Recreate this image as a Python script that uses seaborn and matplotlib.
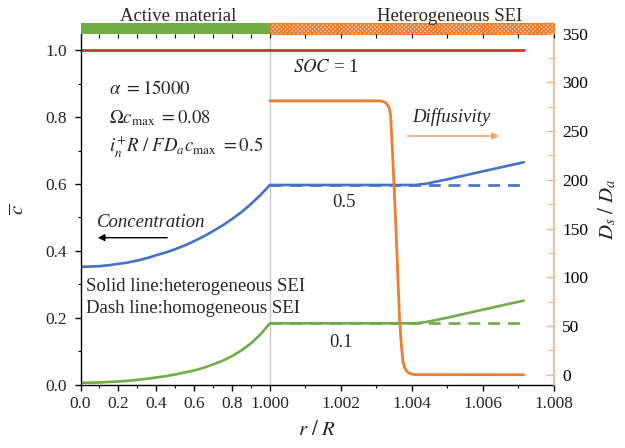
import numpy as np
import matplotlib
matplotlib.use("Agg")
import matplotlib.pyplot as plt
import matplotlib.transforms as mtransforms
from matplotlib.patches import Rectangle, FancyArrowPatch
import seaborn as sns

# ---------------- data ----------------
# normalised radius inside the active particle
r_active = [0.0, 0.05, 0.1, 0.15, 0.2, 0.25, 0.3, 0.35, 0.4, 0.45, 0.5,
            0.55, 0.6, 0.65, 0.7, 0.75, 0.8, 0.85, 0.9, 0.95, 1.0]
c_soc05_active = [0.352, 0.353, 0.354, 0.357, 0.361, 0.365, 0.371, 0.378, 0.387, 0.395, 0.405,
                  0.416, 0.429, 0.443, 0.459, 0.476, 0.495, 0.516, 0.540, 0.567, 0.597]
c_soc01_active = [0.005, 0.0055, 0.006, 0.0075, 0.009, 0.011, 0.014, 0.017, 0.021, 0.025, 0.030,
                  0.036, 0.042, 0.050, 0.060, 0.071, 0.085, 0.102, 0.123, 0.150, 0.183]

# radius inside the SEI layer (heterogeneous SEI, solid lines)
r_sei = [1.0041, 1.0044, 1.0050, 1.0060, 1.00715]
c_soc05_sei = [0.597, 0.601, 0.614, 0.638, 0.665]
c_soc01_sei = [0.183, 0.187, 0.200, 0.224, 0.251]

# homogeneous SEI (dashed lines)
r_homog = [1.000, 1.00715]
c_soc05_homog = [0.597, 0.597]
c_soc01_homog = [0.183, 0.183]

# fully charged state
r_soc1 = [0.0, 1.00715]
c_soc1 = [1.0, 1.0]

# diffusivity ratio across the SEI
r_diff = [1.0000, 1.0031, 1.00325, 1.00335, 1.0034, 1.00345, 1.0035, 1.00355,
          1.0036, 1.00365, 1.0037, 1.00375, 1.0038, 1.00385, 1.0039, 1.0040,
          1.0041, 1.00715]
diffusivity = [281, 281, 279.5, 274.8, 266, 230, 190, 150,
               104, 58, 31, 13, 6.9, 3.8, 2.0, 0.6,
               0.1, 0.0]

x_major = [0.0, 0.2, 0.4, 0.6, 0.8, 1.000, 1.002, 1.004, 1.006, 1.008]
x_major_labels = ["0.0", "0.2", "0.4", "0.6", "0.8", "1.000", "1.002", "1.004", "1.006", "1.008"]
x_minor = [0.1, 0.3, 0.5, 0.7, 0.9, 1.001, 1.003, 1.005, 1.007]
y_left_major = [0.0, 0.2, 0.4, 0.6, 0.8, 1.0]
y_left_labels = ["0.0", "0.2", "0.4", "0.6", "0.8", "1.0"]
y_left_minor = [0.1, 0.3, 0.5, 0.7, 0.9]
y_right_major = [0, 50, 100, 150, 200, 250, 300, 350]
y_right_minor = [25, 75, 125, 175, 225, 275, 325]

# ---------------- style ----------------
sns.set_style("ticks")
plt.rcParams["font.family"] = ["Liberation Serif", "DejaVu Serif"]
plt.rcParams["mathtext.fontset"] = "stix"
plt.rcParams["hatch.linewidth"] = 1.1

RED = "#C63B2B"
BLUE = "#4472C4"
GREEN = "#70AD47"
ORANGE = "#ED7D31"
ORANGE_LIGHT = "#F4B183"
LW = 1.9
DASH = (0, (4.5, 3))
FS = 13.5

# piecewise x scale: the thin SEI shell is stretched
SEI_STRETCH = 187.5


def fwd(x):
    x = np.asarray(x, dtype=float)
    return np.where(x <= 1.0, x, 1.0 + (x - 1.0) * SEI_STRETCH)


def inv(u):
    u = np.asarray(u, dtype=float)
    return np.where(u <= 1.0, u, 1.0 + (u - 1.0) / SEI_STRETCH)


fig = plt.figure(figsize=(6.25, 4.48), dpi=100)
ax = fig.add_axes([80.5 / 625, 1 - 384.5 / 448, (554 - 80.5) / 625, (384.5 - 33.6) / 448])
ax.set_xscale("function", functions=(fwd, inv))
ax2 = ax.twinx()

ax.axvline(1.0, color="#C8C8C8", lw=1.0, zorder=0)

# concentration profiles
sns.lineplot(x=r_soc1, y=c_soc1, ax=ax, color=RED, lw=2.0, estimator=None)
sns.lineplot(x=r_homog, y=c_soc05_homog, ax=ax, color=BLUE, lw=LW, linestyle=DASH, estimator=None)
sns.lineplot(x=r_homog, y=c_soc01_homog, ax=ax, color=GREEN, lw=LW, linestyle=DASH, estimator=None)
sns.lineplot(x=r_active + r_sei, y=c_soc05_active + c_soc05_sei, ax=ax, color=BLUE, lw=LW, estimator=None)
sns.lineplot(x=r_active + r_sei, y=c_soc01_active + c_soc01_sei, ax=ax, color=GREEN, lw=LW, estimator=None)

# diffusivity ratio
sns.lineplot(x=r_diff, y=diffusivity, ax=ax2, color=ORANGE, lw=2.0, estimator=None)

ax.set_xlim(0.0, 1.008)
ax.set_ylim(0.0, 1.05)
ax2.set_ylim(-10, 350)

# left / bottom axes
ax.set_xticks(x_major)
ax.set_xticklabels(x_major_labels)
ax.set_xticks(x_minor, minor=True)
ax.set_yticks(y_left_major)
ax.set_yticklabels(y_left_labels)
ax.set_yticks(y_left_minor, minor=True)
ax.tick_params(axis="both", which="major", direction="out", length=4.5, width=1.0,
               color="black", labelsize=12.5, pad=4)
ax.tick_params(axis="both", which="minor", direction="out", length=2.5, width=0.8, color="black")
ax.tick_params(axis="y", which="major", pad=5)
for s in ("top", "right"):
    ax.spines[s].set_visible(False)
for s in ("left", "bottom"):
    ax.spines[s].set_color("black")
    ax.spines[s].set_linewidth(1.0)
ax.set_xlabel(r"$r\ /\ R$", fontsize=15, labelpad=6)
ax.set_ylabel(r"$\overline{c}$", fontsize=15, labelpad=12)

# right axis
ax2.set_yticks(y_right_major)
ax2.set_yticks(y_right_minor, minor=True)
ax2.tick_params(axis="y", which="major", direction="in", length=6, width=1.0,
                color=ORANGE_LIGHT, labelcolor="black", labelsize=12.5, pad=6)
ax2.tick_params(axis="y", which="minor", direction="in", length=4, width=0.8, color=ORANGE_LIGHT)
for s in ("top", "left", "bottom"):
    ax2.spines[s].set_visible(False)
ax2.spines["right"].set_color(ORANGE_LIGHT)
ax2.spines["right"].set_linewidth(1.2)
ax2.set_ylabel(r"$D_s\ /\ D_a$", fontsize=15, labelpad=6)

# inward ticks along the top edge
ax_top = ax.twiny()
ax_top.set_xscale("function", functions=(fwd, inv))
ax_top.set_xlim(0.0, 1.008)
ax_top.set_xticks(sorted(x_major + x_minor))
ax_top.tick_params(axis="x", which="major", direction="in", length=3, width=0.8,
                   color="black", labeltop=False)
ax_top.tick_params(axis="x", which="minor", length=0)
for s in ax_top.spines.values():
    s.set_visible(False)

# region bars above the plot
bar_tr = mtransforms.blended_transform_factory(ax.transData, ax.transAxes)
ax.add_patch(Rectangle((0.0, 1.0), 1.0, 0.031, transform=bar_tr, facecolor=GREEN,
                       edgecolor="none", clip_on=False, zorder=5))
ax.add_patch(Rectangle((1.0, 1.0), 0.008, 0.031, transform=bar_tr, facecolor="#FBE1D0",
                       edgecolor=ORANGE, hatch="xxxxxxxx", lw=0.8, clip_on=False, zorder=5))


def P(x, y):
    return x / 625, 1 - y / 448


fig.text(*P(178, 20.7), "Active material", fontsize=FS, ha="center", va="baseline")
fig.text(*P(450, 20.7), "Heterogeneous SEI", fontsize=FS, ha="center", va="baseline")

fig.text(*P(109, 94.5), r"$\alpha\ =15000$", fontsize=FS, va="baseline")
fig.text(*P(109, 123), r"$\Omega c_{\mathrm{max}}\ = 0.08$", fontsize=FS, va="baseline")
fig.text(*P(109, 152), r"$i_n^{+}R\ /\ FD_a c_{\mathrm{max}}\ = 0.5$", fontsize=FS, va="baseline")
fig.text(*P(293, 72), r"$SOC$ = 1", fontsize=FS, va="baseline")
fig.text(*P(412, 121.5), "Diffusivity", fontsize=FS, style="italic", va="baseline")
fig.text(*P(97, 227.3), "Concentration", fontsize=FS, style="italic", va="baseline")
fig.text(*P(332, 206.7), "0.5", fontsize=FS, va="baseline")
fig.text(*P(329, 346.7), "0.1", fontsize=FS, va="baseline")
fig.text(*P(86, 290.7), "Solid line:heterogeneous SEI", fontsize=FS, va="baseline")
fig.text(*P(86, 313.3), "Dash line:homogeneous SEI", fontsize=FS, va="baseline")

fig.add_artist(FancyArrowPatch(
    P(405, 136), P(502, 136), transform=fig.transFigure, arrowstyle="-|>",
    mutation_scale=10, color="#F4A36B", lw=1.2))
fig.add_artist(FancyArrowPatch(
    P(170, 237.7), P(95, 237.7), transform=fig.transFigure, arrowstyle="-|>",
    mutation_scale=10, color="black", lw=1.0))

fig.savefig("out.png", dpi=100)
